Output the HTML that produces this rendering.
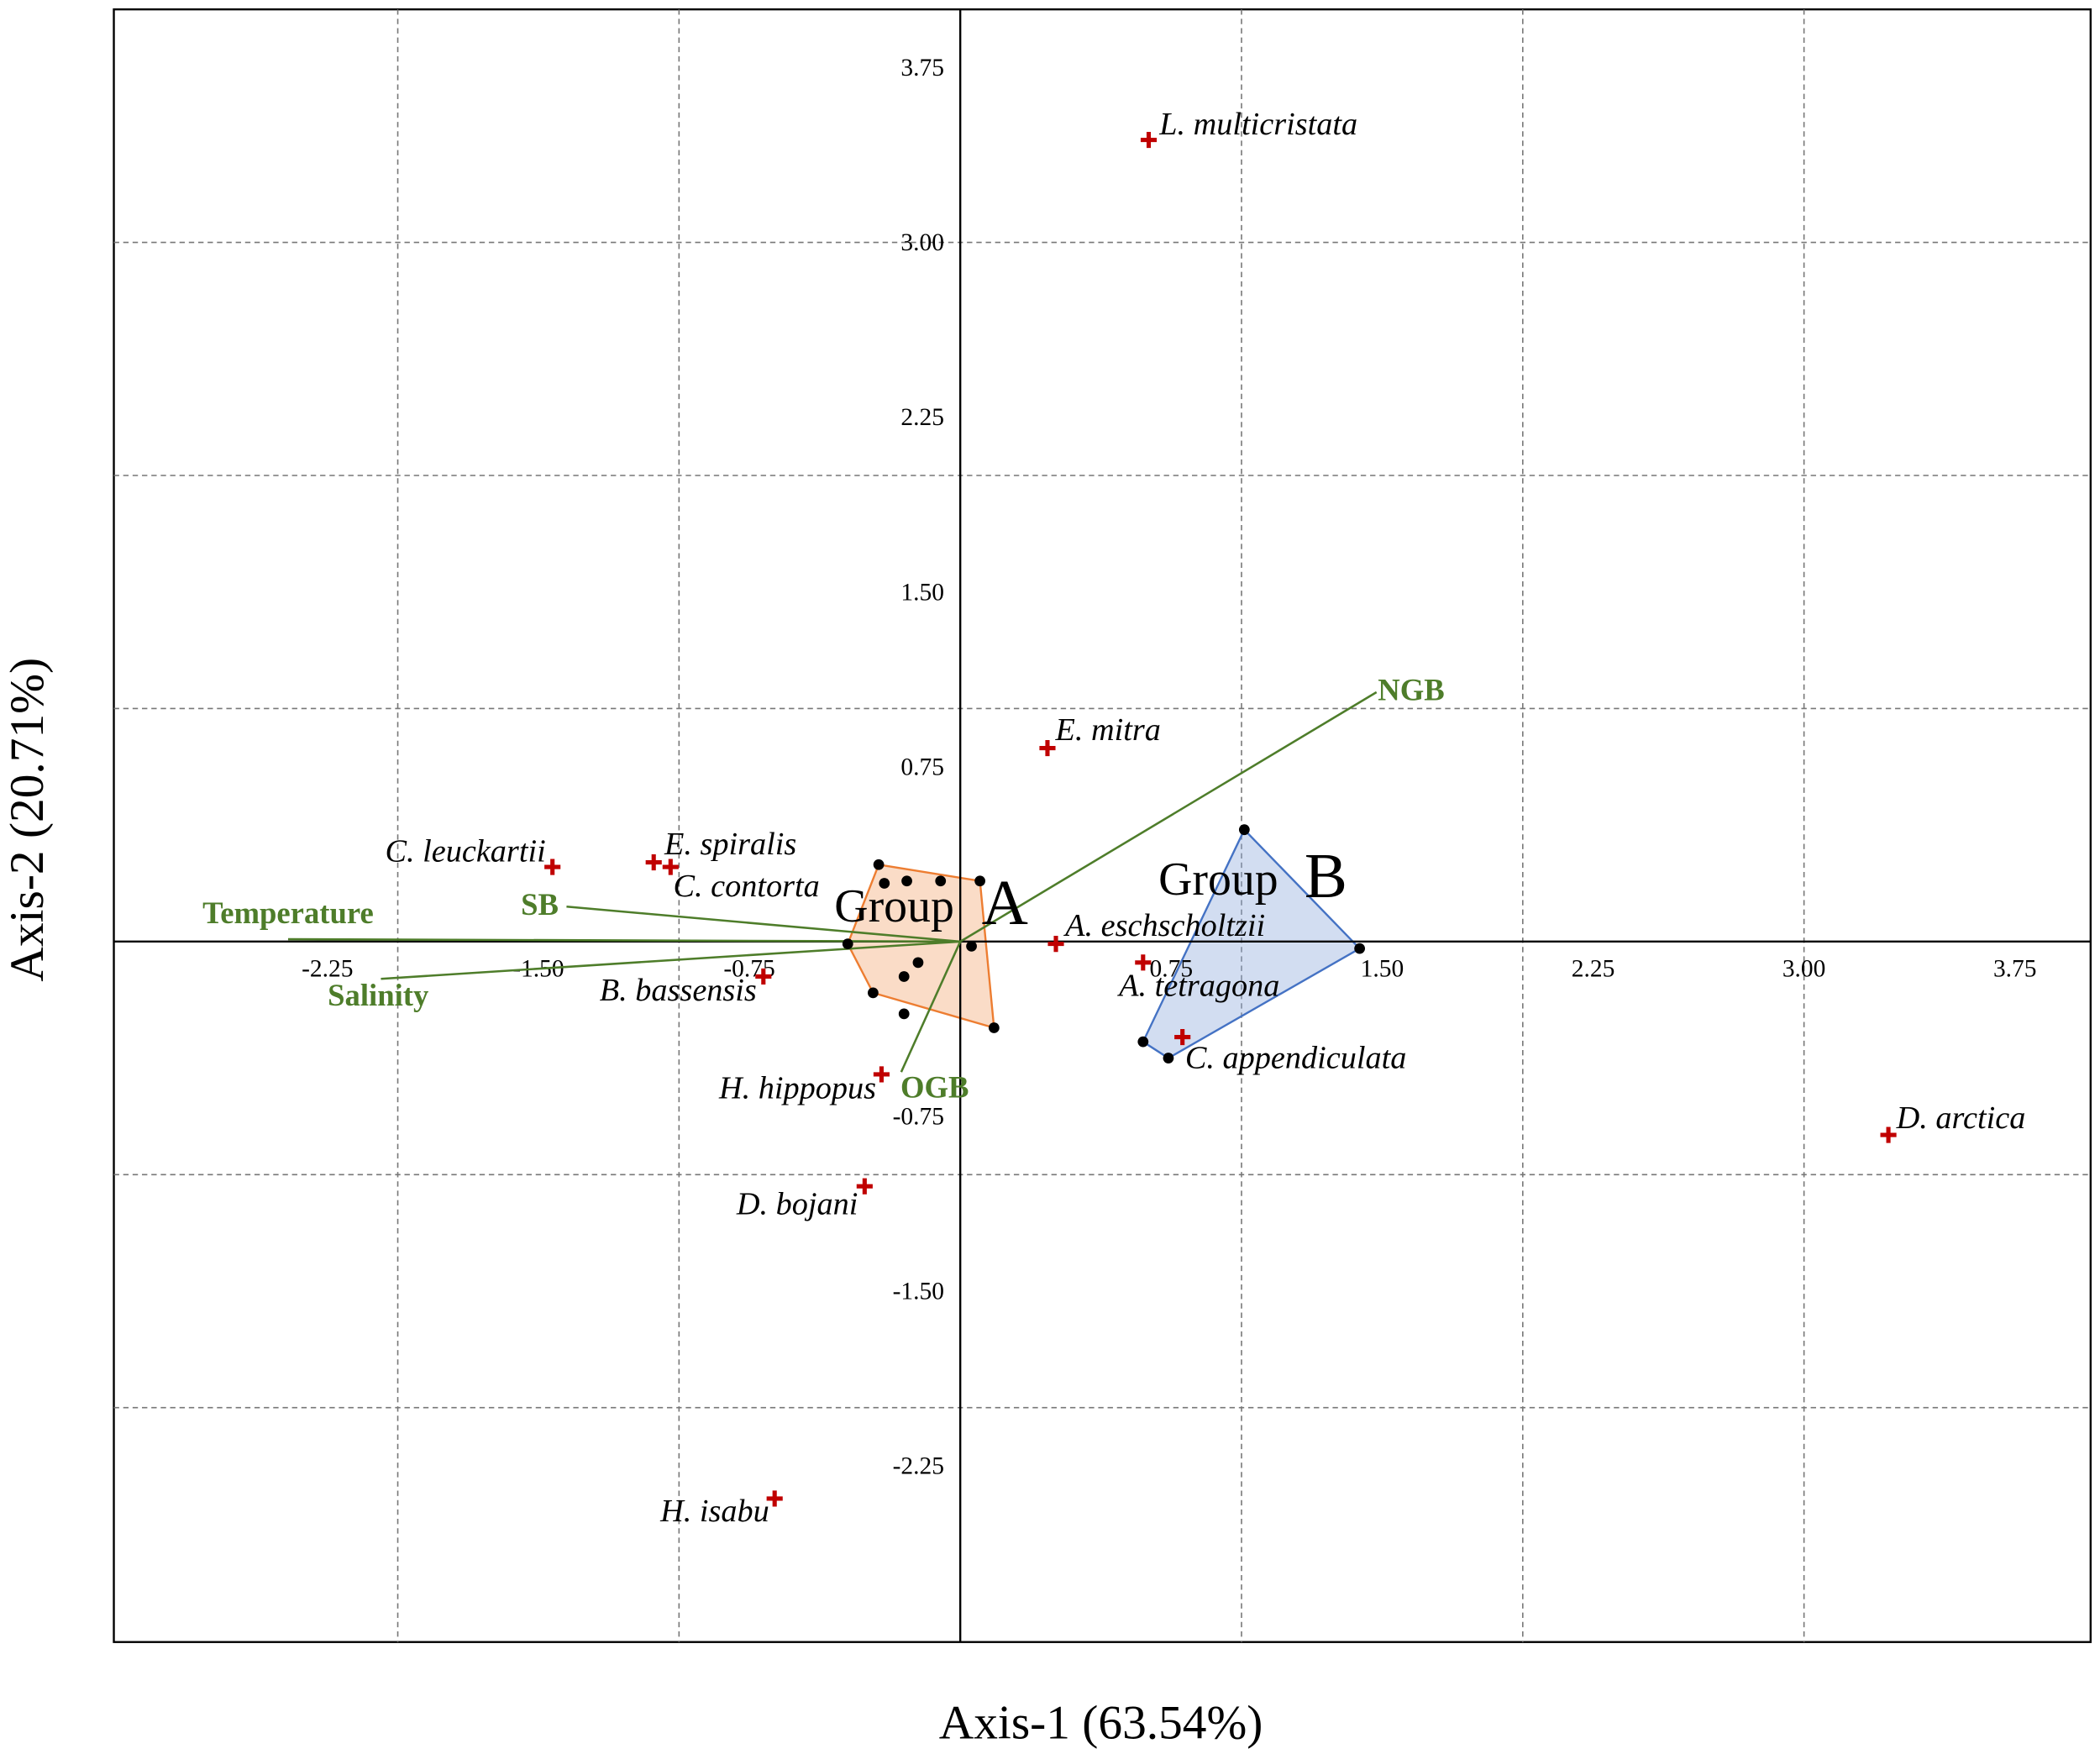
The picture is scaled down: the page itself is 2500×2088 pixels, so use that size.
<!DOCTYPE html>
<html><head><meta charset="utf-8"><style>
html,body{margin:0;padding:0;background:#fff;}
svg{display:block;font-family:"Liberation Serif",serif;}
</style></head><body>
<svg id="chart" width="2500" height="2088" viewBox="0 0 1568 1309.6" xmlns="http://www.w3.org/2000/svg">
<rect x="85" y="7" width="1476" height="1219" fill="none" stroke="#000" stroke-width="1.5"/>
<g id="grid"></g>
<g id="hulls"></g>
<g id="axes"></g>
<g id="arrows"></g>
<g id="pts"></g>
<g id="species"></g>
<g>
<text x="623" y="688" font-size="35">Group</text>
<text x="733" y="690" font-size="48">A</text>
</g>
<g>
<text x="865" y="668" font-size="35">Group</text>
<text x="974" y="670" font-size="48">B</text>
</g>
<text x="822" y="1298" font-size="36" text-anchor="middle">Axis-1 (63.54%)</text>
<text transform="translate(32,612) rotate(-90)" font-size="36" text-anchor="middle">Axis-2 (20.71%)</text>
</svg>
<script>
const xTicks=[-2.25,-1.5,-0.75,0.75,1.5,2.25,3.0,3.75];
const yTicks=[3.75,3.0,2.25,1.5,0.75,-0.75,-1.5,-2.25];
const gridX=[-2,-1,1,2,3];
const gridY=[3,2,1,-1,-2];
const speciesNames=["L. multicristata","E. mitra","C. leuckartii","E. spiralis","C. contorta","A. eschscholtzii","A. tetragona","B. bassensis","C. appendiculata","H. hippopus","D. bojani","H. isabu","D. arctica"];
const speciesX=[0.67,0.31,-1.45,-1.09,-1.03,0.34,0.65,-0.70,0.79,-0.28,-0.34,-0.66,3.30];
const speciesY=[3.44,0.83,0.32,0.34,0.32,-0.01,-0.09,-0.15,-0.41,-0.57,-1.05,-2.39,-0.83];
const groupAX=[-0.29,-0.27,-0.19,-0.07,0.07,-0.40,0.04,-0.15,-0.20,-0.31,-0.20,0.12];
const groupAY=[0.33,0.25,0.26,0.26,0.26,-0.01,-0.02,-0.09,-0.15,-0.22,-0.31,-0.37];
const groupBX=[1.01,1.42,0.65,0.74];
const groupBY=[0.48,-0.03,-0.43,-0.50];
const hullAIdx=[0,4,11,9,5];
const hullBIdx=[0,1,3,2];
const envNames=["Temperature","Salinity","SB","NGB","OGB"];
const envX=[-2.39,-2.06,-1.40,1.48,-0.21];
const envY=[0.01,-0.16,0.15,1.07,-0.56];

const X=v=>717+v*210, Y=v=>703-v*174;
const NS="http://www.w3.org/2000/svg";
function mk(tag,attrs,parent,txt){const e=document.createElementNS(NS,tag);for(const k in attrs)e.setAttribute(k,attrs[k]);if(txt!==undefined)e.textContent=txt;parent.appendChild(e);return e;}
const grid=document.getElementById('grid');
gridX.forEach(v=>{const l=mk('line',{x1:X(v),x2:X(v),y1:7,y2:1226,stroke:'#777','stroke-width':1,'stroke-dasharray':'4,3'},grid);

});
gridY.forEach(v=>{const l=mk('line',{x1:85,x2:1561,y1:Y(v),y2:Y(v),stroke:'#777','stroke-width':1,'stroke-dasharray':'4,3'},grid);

});
const hulls=document.getElementById('hulls');
const pa=mk('polygon',{points:hullAIdx.map(i=>X(groupAX[i])+','+Y(groupAY[i])).join(' '),fill:'rgba(244,177,131,0.45)',stroke:'#ED7D31','stroke-width':1.5},hulls);


const pb=mk('polygon',{points:hullBIdx.map(i=>X(groupBX[i])+','+Y(groupBY[i])).join(' '),fill:'rgba(143,170,220,0.4)',stroke:'#4472C4','stroke-width':1.5},hulls);


const axes=document.getElementById('axes');
mk('line',{x1:85,x2:1561,y1:Y(0),y2:Y(0),stroke:'#000','stroke-width':1.5},axes);
mk('line',{x1:X(0),x2:X(0),y1:7,y2:1226,stroke:'#000','stroke-width':1.5},axes);
xTicks.forEach(v=>{const t=mk('text',{x:X(v),y:Y(0)+26,'font-size':18.5,'text-anchor':'middle'},axes,v.toFixed(2));

});
yTicks.forEach(v=>{const t=mk('text',{x:X(0)-12,y:Y(v)+6,'font-size':18.5,'text-anchor':'end'},axes,v.toFixed(2));

});
const arrows=document.getElementById('arrows');
const envOff=[[0,-12,'middle'],[-2,20,'middle'],[-20,6,'middle'],[1,6,'start'],[25,19,'middle']];
envNames.forEach((n,i)=>{const l=mk('line',{x1:X(0),y1:Y(0),x2:X(envX[i]),y2:Y(envY[i]),stroke:'#4E7D2A','stroke-width':1.6},arrows);


const t=mk('text',{x:X(envX[i])+envOff[i][0],y:Y(envY[i])+envOff[i][1],'font-size':23,'font-weight':'bold',fill:'#4E7D2A','text-anchor':envOff[i][2]},arrows,n);

});
const pts=document.getElementById('pts');
groupAX.forEach((v,i)=>{const c=mk('circle',{cx:X(v),cy:Y(groupAY[i]),r:4,fill:'#000'},pts);

});
groupBX.forEach((v,i)=>{const c=mk('circle',{cx:X(v),cy:Y(groupBY[i]),r:4,fill:'#000'},pts);

});
const sp=document.getElementById('species');
const labOff=[[8,-4,'start'],[6,-6,'start'],[-5,-4,'end'],[8,-6,'start'],[2,22,'start'],[7,-6,'start'],[-18,25,'start'],[-5,18,'end'],[2,23,'start'],[-4,18,'end'],[-5,21,'end'],[-4,17,'end'],[6,-5,'start']];
speciesNames.forEach((n,i)=>{const x=X(speciesX[i]),y=Y(speciesY[i]);
const g=mk('path',{d:`M${x-6},${y}H${x+6}M${x},${y-6}V${y+6}`,stroke:'#C00000','stroke-width':3.2},sp);


const t=mk('text',{x:x+labOff[i][0],y:y+labOff[i][1],'font-size':24,'font-style':'italic','text-anchor':labOff[i][2]},sp,n);

});
</script>
</body></html>
